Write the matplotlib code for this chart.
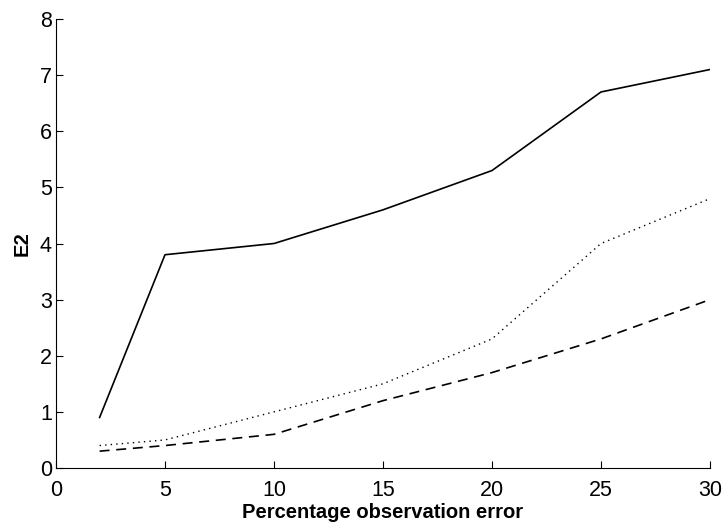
import matplotlib
matplotlib.use("Agg")
import matplotlib.pyplot as plt

plt.rcParams["font.family"] = ["Liberation Sans", "DejaVu Sans"]

X = [2, 5, 10, 15, 20, 25, 30]
SOLID = [0.9, 3.8, 4.0, 4.6, 5.3, 6.7, 7.1]
DOTTED = [0.4, 0.5, 1.0, 1.5, 2.3, 4.0, 4.8]
DASHED = [0.3, 0.4, 0.6, 1.2, 1.7, 2.3, 3.0]

fig = plt.figure(figsize=(7.28, 5.26), dpi=100)
ax = fig.add_axes([56 / 728, 58 / 526, 654 / 728, 449 / 526])

ax.plot(X, SOLID, color="black", linewidth=1.2, linestyle="-")
ax.plot(X, DOTTED, color="black", linewidth=1.0, linestyle=(0, (1, 3)))
ax.plot(X, DASHED, color="black", linewidth=1.2, linestyle=(0, (6, 4)))

ax.set_xlim(0, 30)
ax.set_ylim(0, 8)
ax.set_xticks([0, 5, 10, 15, 20, 25, 30])
ax.set_yticks(range(9))
ax.spines["top"].set_visible(False)
ax.spines["right"].set_visible(False)
ax.tick_params(direction="in", length=5, labelsize=15.5)
ax.tick_params(axis="x", pad=9)
ax.tick_params(axis="y", pad=3)

ax.set_xlabel("Percentage observation error", fontsize=14.5, fontweight="bold", labelpad=1)
ax.set_ylabel("E2", fontsize=14.5, fontweight="bold", labelpad=6)

fig.savefig("out.png", dpi=100)
